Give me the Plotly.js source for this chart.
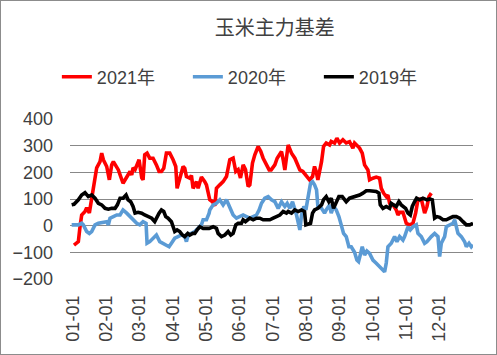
<!DOCTYPE html>
<html>
<head>
<meta charset="utf-8">
<script src="https://cdn.plot.ly/plotly-3.0.1.min.js"></script>
<style>
html,body{margin:0;padding:0;background:#fff;}
#wrap{position:relative;width:497px;height:355px;}
#chart{position:absolute;left:0;top:0;width:497px;height:355px;}
#frame{position:absolute;left:0;top:0;width:497px;height:355px;box-sizing:border-box;border:1px solid #8c8c8c;pointer-events:none;}
</style>
</head>
<body>
<div id="wrap"><div id="chart"></div><div id="frame"></div></div>
<script>
// month position (0 = 01-01, 1 = 02-01, ...) and basis values
const tickLabels = ["01-01","02-01","03-01","04-01","05-01","06-01","07-01","08-01","09-01","10-01","11-01","12-01"];
const seriesNames = ["2021年","2020年","2019年"];

const x2021 = [0.04,0.10,0.17,0.22,0.27,0.37,0.42,0.50,0.57,0.67,0.72,0.82,0.87,0.92,1.02,1.10,1.17,1.22,1.37,1.51,1.62,1.72,1.77,1.81,1.87,1.99,2.07,2.11,2.16,2.23,2.31,2.41,2.51,2.59,2.66,2.73,2.81,2.91,3.01,3.09,3.13,3.21,3.31,3.36,3.41,3.51,3.56,3.61,3.71,3.76,3.86,3.96,4.01,4.11,4.19,4.26,4.31,4.41,4.51,4.61,4.71,4.81,4.89,4.96,5.03,5.11,5.18,5.26,5.31,5.39,5.46,5.56,5.64,5.71,5.81,5.89,5.95,6.06,6.13,6.21,6.26,6.31,6.36,6.46,6.56,6.66,6.75,6.81,6.90,7.01,7.10,7.19,7.25,7.30,7.35,7.46,7.52,7.60,7.70,7.75,7.85,7.92,8.00,8.10,8.20,8.30,8.40,8.45,8.60,8.68,8.75,8.85,8.90,9.00,9.10,9.20,9.25,9.32,9.40,9.45,9.50,9.60,9.70,9.75,9.80,9.90,9.95,10.00,10.10,10.20,10.28,10.35,10.45,10.55,10.62,10.68,10.75];
const y2021 = [-73,-68,-60,-4,40,53,67,48,97,172,217,240,272,247,222,172,228,240,209,159,184,203,190,217,210,247,179,172,266,272,253,253,228,203,203,215,272,272,247,222,140,172,222,215,184,178,188,140,165,140,182,165,153,97,90,74,140,153,165,184,247,253,203,210,179,228,210,147,153,235,266,297,278,253,228,209,209,228,253,272,278,247,209,303,272,253,228,209,203,184,172,184,222,203,172,240,297,310,303,316,310,328,310,322,310,315,291,310,291,272,228,209,172,178,182,178,140,122,109,115,84,78,59,40,50,50,34,9,3,9,47,97,100,47,72,109,122];

const x2020 = [-0.03,0.04,0.17,0.27,0.32,0.42,0.50,0.57,0.67,0.77,0.92,1.02,1.07,1.12,1.22,1.32,1.42,1.51,1.62,1.72,1.81,1.92,2.01,2.11,2.20,2.23,2.31,2.41,2.51,2.61,2.71,2.81,2.89,2.96,3.06,3.16,3.26,3.36,3.41,3.46,3.56,3.66,3.76,3.86,3.91,4.01,4.09,4.11,4.21,4.31,4.41,4.51,4.61,4.71,4.81,4.91,5.01,5.11,5.21,5.31,5.41,5.51,5.59,5.66,5.76,5.86,5.96,6.06,6.16,6.26,6.36,6.43,6.51,6.59,6.71,6.81,6.86,6.93,6.99,7.05,7.13,7.19,7.25,7.31,7.35,7.46,7.55,7.60,7.70,7.75,7.82,7.90,7.98,8.05,8.12,8.20,8.28,8.35,8.45,8.52,8.57,8.62,8.68,8.75,8.82,8.90,9.00,9.10,9.20,9.30,9.35,9.40,9.45,9.55,9.65,9.72,9.80,9.90,9.95,10.05,10.12,10.20,10.30,10.35,10.45,10.55,10.62,10.75,10.85,10.95,11.00,11.05,11.15,11.20,11.30,11.40,11.45,11.55,11.65,11.75,11.80,11.88,11.95,12.00];
const y2020 = [3,2,3,9,3,-22,-29,-22,3,9,12,15,3,28,34,40,40,59,47,34,22,9,3,15,9,-66,-60,-47,-35,-60,-66,-73,-79,-66,-47,-41,-35,-41,-60,-35,-29,-22,-10,3,22,22,47,59,78,84,97,78,97,65,40,28,34,40,34,28,34,40,59,84,103,109,97,90,65,90,72,84,65,90,40,-16,40,72,59,109,159,165,153,134,72,65,47,59,78,47,72,59,34,3,-29,-41,-79,-79,-100,-129,-135,-110,-79,-110,-95,-104,-129,-141,-154,-166,-173,-140,-79,-66,-41,-60,-41,-54,-41,-4,-16,-4,3,-29,-41,-66,-60,-41,-29,-41,-116,-66,-41,-4,3,9,22,-29,-41,-60,-79,-66,-79,-72];

const x2019 = [-0.03,0.04,0.17,0.27,0.37,0.47,0.57,0.67,0.77,0.87,0.97,1.07,1.17,1.27,1.34,1.42,1.51,1.60,1.66,1.74,1.81,1.87,1.96,2.07,2.16,2.26,2.37,2.46,2.51,2.59,2.66,2.73,2.79,2.86,2.96,3.06,3.13,3.21,3.29,3.36,3.45,3.51,3.60,3.66,3.73,3.81,3.91,4.01,4.09,4.21,4.31,4.36,4.46,4.56,4.66,4.74,4.81,4.89,4.96,5.06,5.11,5.18,5.31,5.41,5.51,5.61,5.71,5.81,5.91,6.01,6.11,6.21,6.31,6.41,6.46,6.56,6.66,6.76,6.86,6.95,6.99,7.10,7.13,7.19,7.25,7.35,7.46,7.52,7.60,7.68,7.75,7.82,7.88,7.98,8.08,8.15,8.20,8.30,8.40,8.50,8.60,8.70,8.80,8.90,9.00,9.10,9.18,9.22,9.30,9.40,9.50,9.55,9.62,9.70,9.78,9.85,9.98,10.05,10.12,10.18,10.25,10.31,10.40,10.50,10.62,10.70,10.78,10.85,10.92,11.00,11.10,11.20,11.30,11.40,11.50,11.60,11.70,11.80,11.90,12.00];
const y2019 = [78,80,97,115,124,109,115,103,84,78,65,62,65,65,78,103,103,115,97,90,72,47,50,47,40,34,28,15,28,47,59,53,34,28,15,-22,-16,-22,-35,-41,-29,-35,-29,-29,-16,-4,-10,-10,-10,-4,-10,-29,-41,-35,-22,-35,-29,3,9,9,22,15,28,22,28,28,22,22,22,28,34,40,53,47,53,47,59,53,59,53,3,9,9,47,59,65,78,97,109,90,103,65,84,109,109,100,90,103,106,109,115,122,131,131,128,128,122,78,65,72,65,84,78,72,90,78,65,47,40,72,90,103,97,103,97,100,97,28,34,31,22,22,28,34,34,28,15,3,3,9];

const colors = ["#FF0000","#5B9BD5","#000000"];
const xs = [x2021,x2020,x2019];
const ys = [y2021,y2020,y2019];

const traces = seriesNames.map((n,i)=>({
  type:"scatter", mode:"lines", name:n, x:xs[i], y:ys[i],
  line:{color:colors[i], width:3.6},
  hoverinfo:"skip"
}));

const layout = {
  width:497, height:355,
  margin:{l:70, r:24, t:119, b:76, autoexpand:false},
  paper_bgcolor:"#ffffff", plot_bgcolor:"#ffffff",
  font:{family:"Liberation Sans, Arial, Noto Sans CJK SC", color:"#404040", size:18},
  title:{text:"玉米主力基差", font:{family:"Noto Sans CJK SC", size:20, color:"#404040"},
         xref:"container", x:0.553, xanchor:"center", yref:"container", y:0.921, yanchor:"middle"},
  showlegend:true,
  legend:{orientation:"h", x:0.455, xanchor:"center", xref:"paper", y:1.2625, yanchor:"middle", yref:"paper",
          font:{family:"Liberation Sans, Noto Sans CJK SC", size:18, color:"#404040"},
          entrywidth:86, entrywidthmode:"pixels", tracegroupgap:0, bgcolor:"rgba(0,0,0,0)"},
  xaxis:{range:[-0.08,12], tickmode:"array", tickvals:tickLabels.map((_,i)=>i), ticktext:tickLabels,
         tickangle:-90, showgrid:false, zeroline:false, showline:false, ticks:"",
         ticklabelstandoff:12, tickfont:{size:18, color:"#404040"}, automargin:false},
  yaxis:{range:[-200,400], dtick:100, tick0:0, showgrid:true, gridcolor:"#888888", gridwidth:1,
         zeroline:false, showline:false, ticks:"", ticklabelstandoff:16, automargin:false,
         tickfont:{size:18, color:"#404040"}}
};

Plotly.newPlot("chart", traces, layout, {displayModeBar:false, staticPlot:true});
</script>
</body>
</html>
